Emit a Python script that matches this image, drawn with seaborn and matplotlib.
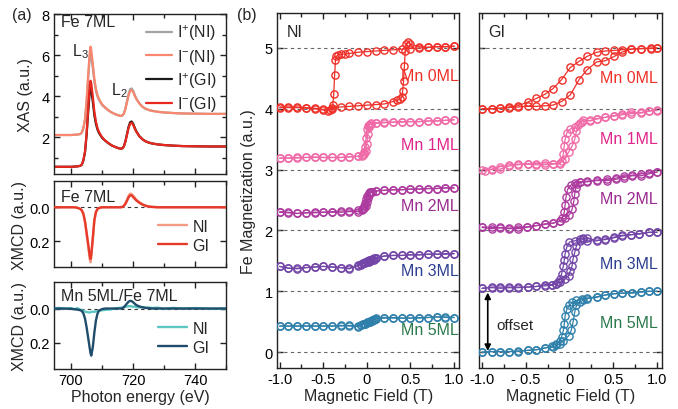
import matplotlib
matplotlib.use("Agg")
import matplotlib.pyplot as plt
from matplotlib.ticker import MultipleLocator, FixedLocator
import seaborn as sns

# ---------------------------------------------------------------- data
# Photon energy grid (eV) for the Fe L-edge spectra
energy = [694.5, 696, 698, 700, 701, 702, 703, 703.5, 704, 704.5,
          705, 705.5, 706, 706.25, 706.5, 707, 707.5, 708, 708.5, 709,
          710, 711, 712, 713, 714, 715, 716, 716.5, 717, 717.5,
          718, 718.5, 719, 719.5, 720, 720.5, 721, 722, 723, 724,
          725, 726, 728, 730, 733, 736, 740, 745, 750]

xas_plus_ni = [2.10, 2.10, 2.10, 2.10, 2.11, 2.12, 2.15, 2.22, 2.45, 2.85,
               3.70, 4.85, 5.85, 6.08, 5.95, 5.35, 4.70, 4.25, 3.98, 3.80,
               3.56, 3.42, 3.30, 3.20, 3.13, 3.07, 3.03, 3.05, 3.15, 3.40,
               3.75, 4.10, 4.33, 4.37, 4.25, 4.05, 3.88, 3.64, 3.48, 3.38,
               3.32, 3.28, 3.23, 3.20, 3.17, 3.15, 3.14, 3.13, 3.13]
xas_minus_ni = [2.10, 2.10, 2.10, 2.10, 2.11, 2.12, 2.15, 2.23, 2.47, 2.90,
                3.80, 5.02, 6.12, 6.41, 6.25, 5.58, 4.86, 4.36, 4.05, 3.85,
                3.59, 3.44, 3.31, 3.21, 3.13, 3.07, 3.03, 3.05, 3.14, 3.37,
                3.70, 4.03, 4.25, 4.30, 4.19, 4.01, 3.85, 3.63, 3.47, 3.38,
                3.32, 3.28, 3.23, 3.20, 3.17, 3.15, 3.14, 3.13, 3.13]
xas_plus_gi = [0.55, 0.55, 0.55, 0.55, 0.56, 0.57, 0.60, 0.66, 0.88, 1.27,
               2.10, 3.20, 4.20, 4.41, 4.30, 3.72, 3.06, 2.64, 2.37, 2.19,
               1.96, 1.82, 1.70, 1.60, 1.53, 1.47, 1.43, 1.45, 1.55, 1.80,
               2.15, 2.50, 2.72, 2.76, 2.64, 2.45, 2.28, 2.04, 1.89, 1.79,
               1.73, 1.69, 1.64, 1.61, 1.58, 1.56, 1.55, 1.54, 1.54]
xas_minus_gi = [0.55, 0.55, 0.55, 0.55, 0.56, 0.57, 0.60, 0.67, 0.90, 1.31,
                2.18, 3.38, 4.50, 4.75, 4.62, 3.97, 3.23, 2.75, 2.44, 2.24,
                1.99, 1.83, 1.71, 1.60, 1.53, 1.47, 1.43, 1.45, 1.54, 1.78,
                2.11, 2.44, 2.65, 2.70, 2.59, 2.41, 2.26, 2.03, 1.89, 1.79,
                1.73, 1.69, 1.64, 1.61, 1.58, 1.56, 1.55, 1.54, 1.54]

xmcd_fe_ni = [0.0, 0.0, 0.0, 0.0, 0.0, 0.003, 0.01, 0.02, 0.045, 0.09,
              0.16, 0.23, 0.305, 0.325, 0.295, 0.19, 0.08, 0.03, 0.012, 0.005,
              0.0, 0.0, 0.0, 0.0, 0.0, 0.0, 0.0, -0.003, -0.01, -0.025,
              -0.045, -0.068, -0.08, -0.078, -0.068, -0.057, -0.045, -0.03, -0.018, -0.01,
              -0.005, -0.002, 0.0, 0.0, 0.0, 0.0, 0.0, 0.0, 0.0]
xmcd_fe_gi = [0.0, 0.0, 0.0, 0.0, 0.0, 0.003, 0.01, 0.02, 0.04, 0.085,
              0.15, 0.215, 0.285, 0.305, 0.28, 0.18, 0.075, 0.028, 0.011, 0.004,
              0.0, 0.0, 0.0, 0.0, 0.0, 0.0, 0.0, -0.002, -0.008, -0.02,
              -0.038, -0.058, -0.07, -0.07, -0.06, -0.05, -0.04, -0.026, -0.015, -0.008,
              -0.004, -0.002, 0.0, 0.0, 0.0, 0.0, 0.0, 0.0, 0.0]
xmcd_mnfe_ni = [0.003, -0.004, 0.002, -0.003, 0.004, -0.002, 0.006, 0.01, 0.014, 0.018,
                0.02, 0.022, 0.024, 0.022, 0.02, 0.018, 0.02, 0.015, 0.017, 0.012,
                0.01, 0.008, 0.006, 0.004, 0.0, -0.003, -0.004, -0.006, -0.008, -0.01,
                -0.012, -0.013, -0.014, -0.012, -0.01, -0.012, -0.008, -0.006, -0.009, -0.004,
                -0.006, -0.003, -0.005, 0.002, -0.004, 0.001, -0.003, 0.002, 0.0]
xmcd_mnfe_gi = [0.0, 0.0, 0.0, 0.002, 0.004, 0.006, 0.01, 0.015, 0.03, 0.06,
                0.11, 0.17, 0.23, 0.26, 0.275, 0.225, 0.14, 0.07, 0.03, 0.012,
                0.003, 0.0, 0.0, 0.0, 0.0, 0.0, 0.0, -0.002, -0.008, -0.018,
                -0.03, -0.04, -0.045, -0.043, -0.036, -0.028, -0.02, -0.012, -0.007, -0.004,
                -0.002, 0.0, 0.0, 0.0, 0.0, 0.0, 0.0, 0.0, 0.0]

# Hysteresis loops: field (T) and offset Fe magnetization (a.u.),
# "up" = sweep from -1 T to +1 T, "down" = sweep back
layers = ["Mn 0ML", "Mn 1ML", "Mn 2ML", "Mn 3ML", "Mn 5ML"]

# normal incidence (NI)
ni_mn0_up_h = [-1.0, -0.9, -0.8, -0.7, -0.6, -0.5, -0.4, -0.3, -0.2, -0.1, 0.0, 0.1, 0.2, 0.3,
               0.35, 0.38, 0.4, 0.41, 0.42, 0.43, 0.44, 0.45, 0.47, 0.5, 0.6, 0.7, 0.8, 0.9, 1.0]
ni_mn0_up_m = [4.03, 4.03, 4.03, 4.02, 4.01, 3.99, 4.02, 4.03, 4.04, 4.05, 4.06, 4.07, 4.08, 4.12,
               4.14, 4.16, 4.19, 4.30, 4.45, 4.70, 4.95, 5.07, 5.09, 5.06, 5.02, 5.01, 5.02, 5.02, 5.03]
ni_mn0_dn_h = [1.0, 0.9, 0.8, 0.7, 0.6, 0.5, 0.4, 0.3, 0.2, 0.1, 0.0, -0.1, -0.2, -0.25, -0.3,
               -0.33, -0.35, -0.36, -0.37, -0.38, -0.39, -0.4, -0.42, -0.45, -0.5, -0.6, -0.7,
               -0.8, -0.9, -1.0]
ni_mn0_dn_m = [5.03, 5.02, 5.02, 5.01, 5.0, 4.99, 4.98, 4.97, 4.96, 4.95, 4.94, 4.93, 4.91, 4.90, 4.90,
               4.89, 4.86, 4.80, 4.55, 4.25, 4.07, 4.00, 3.98, 3.97, 3.98, 4.0, 4.01,
               4.02, 4.02, 4.02]

ni_mn1_up_h = [-1.0, -0.9, -0.8, -0.7, -0.6, -0.5, -0.4, -0.3, -0.2, -0.1, -0.06, -0.03, -0.01, 0.0,
               0.01, 0.02, 0.03, 0.05, 0.1, 0.2, 0.3, 0.4, 0.5, 0.6, 0.7, 0.8, 0.9, 1.0]
ni_mn1_up_m = [3.19, 3.19, 3.20, 3.20, 3.21, 3.20, 3.20, 3.20, 3.21, 3.22, 3.23, 3.25, 3.30, 3.42,
               3.58, 3.70, 3.74, 3.76, 3.77, 3.78, 3.78, 3.79, 3.79, 3.79, 3.80, 3.80, 3.81, 3.82]
ni_mn1_dn_h = [1.0, 0.9, 0.8, 0.7, 0.6, 0.5, 0.4, 0.3, 0.2, 0.1, 0.05, 0.03, 0.01, 0.0,
               -0.01, -0.02, -0.03, -0.05, -0.1, -0.2, -0.3, -0.4, -0.5, -0.6, -0.7, -0.8, -0.9, -1.0]
ni_mn1_dn_m = [3.82, 3.81, 3.80, 3.80, 3.79, 3.79, 3.78, 3.78, 3.77, 3.76, 3.75, 3.74, 3.72, 3.66,
               3.52, 3.38, 3.29, 3.24, 3.22, 3.21, 3.20, 3.20, 3.20, 3.20, 3.20, 3.19, 3.19, 3.19]

ni_mn2_up_h = [-1.0, -0.9, -0.8, -0.7, -0.6, -0.5, -0.4, -0.3, -0.2, -0.1, -0.06, -0.03, -0.01, 0.0,
               0.01, 0.02, 0.04, 0.06, 0.1, 0.2, 0.3, 0.4, 0.5, 0.6, 0.7, 0.8, 0.9, 1.0]
ni_mn2_up_m = [2.30, 2.29, 2.28, 2.29, 2.30, 2.30, 2.31, 2.32, 2.32, 2.34, 2.35, 2.37, 2.41, 2.47,
               2.54, 2.59, 2.63, 2.64, 2.65, 2.66, 2.67, 2.67, 2.68, 2.68, 2.69, 2.69, 2.70, 2.70]
ni_mn2_dn_h = [1.0, 0.9, 0.8, 0.7, 0.6, 0.5, 0.4, 0.3, 0.2, 0.1, 0.06, 0.04, 0.02, 0.0,
               -0.01, -0.02, -0.03, -0.04, -0.06, -0.1, -0.2, -0.3, -0.4, -0.5, -0.6, -0.7, -0.8,
               -0.9, -1.0]
ni_mn2_dn_m = [2.70, 2.70, 2.69, 2.69, 2.68, 2.68, 2.67, 2.67, 2.66, 2.65, 2.64, 2.63, 2.61, 2.57,
               2.51, 2.45, 2.40, 2.36, 2.33, 2.31, 2.31, 2.30, 2.30, 2.30, 2.29, 2.29, 2.28,
               2.30, 2.31]

ni_mn3_up_h = [-1.0, -0.9, -0.8, -0.7, -0.6, -0.5, -0.4, -0.3, -0.2, -0.1, -0.07, -0.04, -0.02, 0.0,
               0.02, 0.04, 0.06, 0.08, 0.1, 0.2, 0.3, 0.4, 0.5, 0.6, 0.7, 0.8, 0.9, 1.0]
ni_mn3_up_m = [1.41, 1.38, 1.37, 1.39, 1.40, 1.41, 1.40, 1.39, 1.37, 1.44, 1.45, 1.46, 1.47, 1.48,
               1.49, 1.50, 1.51, 1.52, 1.54, 1.58, 1.59, 1.59, 1.60, 1.60, 1.61, 1.61, 1.61, 1.62]
ni_mn3_dn_h = [1.0, 0.9, 0.8, 0.7, 0.6, 0.5, 0.4, 0.3, 0.2, 0.1, 0.08, 0.06, 0.04, 0.02,
               0.0, -0.02, -0.04, -0.07, -0.1, -0.2, -0.3, -0.4, -0.5, -0.6, -0.7, -0.8, -0.9, -1.0]
ni_mn3_dn_m = [1.62, 1.62, 1.61, 1.61, 1.60, 1.60, 1.59, 1.59, 1.58, 1.55, 1.54, 1.53, 1.52, 1.51,
               1.50, 1.48, 1.46, 1.44, 1.42, 1.38, 1.39, 1.40, 1.41, 1.40, 1.39, 1.38, 1.38, 1.41]

ni_mn5_up_h = [-1.0, -0.9, -0.8, -0.7, -0.6, -0.5, -0.4, -0.3, -0.2, -0.1, -0.07, -0.04, -0.02, 0.0,
               0.02, 0.04, 0.06, 0.08, 0.1, 0.2, 0.3, 0.4, 0.5, 0.6, 0.7, 0.8, 0.9, 1.0]
ni_mn5_up_m = [0.43, 0.43, 0.43, 0.43, 0.43, 0.43, 0.43, 0.43, 0.44, 0.43, 0.44, 0.46, 0.47, 0.48,
               0.49, 0.50, 0.51, 0.53, 0.56, 0.57, 0.57, 0.56, 0.56, 0.57, 0.57, 0.58, 0.58, 0.57]
ni_mn5_dn_h = [1.0, 0.9, 0.8, 0.7, 0.6, 0.5, 0.4, 0.3, 0.2, 0.1, 0.08, 0.06, 0.04, 0.02,
               0.0, -0.02, -0.04, -0.07, -0.1, -0.2, -0.3, -0.4, -0.5, -0.6, -0.7, -0.8, -0.9, -1.0]
ni_mn5_dn_m = [0.57, 0.57, 0.58, 0.57, 0.56, 0.56, 0.56, 0.56, 0.56, 0.55, 0.54, 0.53, 0.51, 0.50,
               0.49, 0.47, 0.46, 0.44, 0.42, 0.43, 0.44, 0.43, 0.43, 0.43, 0.43, 0.43, 0.43, 0.43]

# grazing incidence (GI)
gi_mn0_up_h = [-1.0, -0.89, -0.79, -0.69, -0.59, -0.48, -0.38, -0.28, -0.19, -0.09, 0.01,
               0.11, 0.2, 0.31, 0.41, 0.51, 0.6, 0.7, 0.82, 0.93, 1.0]
gi_mn0_up_m = [4.0, 4.0, 4.01, 4.02, 4.03, 4.04, 4.04, 4.05, 4.06, 4.12, 4.23,
               4.48, 4.64, 4.77, 4.79, 4.86, 4.93, 4.98, 4.99, 4.99, 5.0]
gi_mn0_dn_h = [1.0, 0.93, 0.82, 0.7, 0.6, 0.51, 0.41, 0.31, 0.2, 0.11, 0.01, -0.09, -0.19,
               -0.28, -0.38, -0.48, -0.59, -0.69, -0.79, -0.89, -1.0]
gi_mn0_dn_m = [5.0, 5.0, 4.99, 4.98, 4.97, 4.96, 4.95, 4.93, 4.86, 4.78, 4.68, 4.48, 4.33,
               4.24, 4.17, 4.11, 4.05, 4.03, 4.01, 4.0, 4.0]

gi_mn1_up_h = [-1.0, -0.89, -0.79, -0.69, -0.59, -0.48, -0.38, -0.28, -0.19, -0.11, -0.05, -0.01,
               0.03, 0.06, 0.08, 0.1, 0.14, 0.24, 0.31, 0.41, 0.51, 0.6, 0.7, 0.82, 0.91, 1.0]
gi_mn1_up_m = [3.0, 3.0, 3.01, 3.06, 3.08, 3.09, 3.08, 3.08, 3.09, 3.11, 3.18, 3.29,
               3.39, 3.5, 3.64, 3.73, 3.79, 3.81, 3.84, 3.86, 3.89, 3.92, 3.94, 3.94, 3.97, 3.97]
gi_mn1_dn_h = [1.0, 0.91, 0.82, 0.7, 0.6, 0.51, 0.41, 0.31, 0.24, 0.16, 0.12, 0.06, 0.01, -0.03,
               -0.05, -0.06, -0.07, -0.09, -0.11, -0.19, -0.28, -0.38, -0.48, -0.59, -0.69, -0.79,
               -0.89, -0.97]
gi_mn1_dn_m = [3.98, 3.96, 3.93, 3.92, 3.9, 3.88, 3.86, 3.83, 3.8, 3.82, 3.76, 3.70, 3.67, 3.61,
               3.5, 3.39, 3.26, 3.15, 3.09, 3.1, 3.11, 3.1, 3.1, 3.09, 3.08, 3.05,
               3.01, 2.97]

gi_mn2_up_h = [-1.0, -0.89, -0.79, -0.69, -0.59, -0.49, -0.38, -0.28, -0.19, -0.11, -0.05, 0.0,
               0.03, 0.05, 0.06, 0.07, 0.09, 0.12, 0.2, 0.31, 0.43, 0.53, 0.62, 0.72, 0.82, 0.91, 1.0]
gi_mn2_up_m = [2.05, 2.03, 2.05, 2.03, 2.03, 2.05, 2.08, 2.11, 2.12, 2.16, 2.2, 2.26,
               2.35, 2.48, 2.6, 2.7, 2.76, 2.79, 2.80, 2.82, 2.82, 2.84, 2.87, 2.90, 2.90, 2.93, 2.96]
gi_mn2_dn_h = [1.0, 0.91, 0.82, 0.72, 0.62, 0.53, 0.43, 0.31, 0.2, 0.12, 0.06, 0.02, -0.02,
               -0.04, -0.05, -0.06, -0.08, -0.11, -0.19, -0.28, -0.38, -0.49, -0.59, -0.69, -0.79,
               -0.89, -1.0]
gi_mn2_dn_m = [2.96, 2.95, 2.93, 2.91, 2.89, 2.86, 2.84, 2.83, 2.81, 2.80, 2.78, 2.75, 2.68,
               2.55, 2.42, 2.3, 2.2, 2.15, 2.12, 2.10, 2.08, 2.06, 2.05, 2.04, 2.04,
               2.05, 2.06]

gi_mn3_up_h = [-1.0, -0.89, -0.79, -0.69, -0.59, -0.48, -0.38, -0.28, -0.2, -0.16, -0.11, -0.05,
               -0.01, 0.01, 0.03, 0.04, 0.06, 0.08, 0.12, 0.16, 0.2, 0.31, 0.41, 0.51, 0.6, 0.7,
               0.8, 0.91, 1.0]
gi_mn3_up_m = [1.05, 1.07, 1.07, 1.07, 1.07, 1.07, 1.08, 1.11, 1.11, 1.12, 1.15, 1.2,
               1.26, 1.34, 1.42, 1.53, 1.64, 1.75, 1.83, 1.86, 1.83, 1.83, 1.86, 1.89, 1.92, 1.93,
               1.94, 1.97, 1.97]
gi_mn3_dn_h = [1.0, 0.91, 0.8, 0.7, 0.6, 0.51, 0.41, 0.31, 0.2, 0.16, 0.12, 0.06, 0.0, -0.03,
               -0.05, -0.06, -0.07, -0.09, -0.11, -0.13, -0.16, -0.2, -0.28, -0.38, -0.48, -0.59,
               -0.69, -0.79, -0.89, -1.0]
gi_mn3_dn_m = [1.97, 1.97, 1.95, 1.93, 1.91, 1.88, 1.85, 1.84, 1.87, 1.87, 1.86, 1.83, 1.81, 1.73,
               1.62, 1.51, 1.42, 1.29, 1.20, 1.15, 1.12, 1.10, 1.09, 1.08, 1.07, 1.06,
               1.06, 1.05, 1.06, 1.05]

gi_mn5_up_h = [-1.0, -0.89, -0.79, -0.69, -0.59, -0.48, -0.38, -0.28, -0.19, -0.15, -0.11, -0.07,
               -0.01, 0.02, 0.04, 0.06, 0.08, 0.12, 0.16, 0.2, 0.31, 0.41, 0.51, 0.6, 0.72, 0.82,
               0.91, 1.0]
gi_mn5_up_m = [0.0, 0.01, 0.01, 0.01, 0.01, 0.03, 0.04, 0.07, 0.08, 0.11, 0.14, 0.19,
               0.27, 0.36, 0.49, 0.66, 0.77, 0.82, 0.86, 0.88, 0.9, 0.94, 0.96, 0.97, 0.97, 0.99,
               1.0, 1.0]
gi_mn5_dn_h = [1.0, 0.91, 0.82, 0.72, 0.6, 0.51, 0.41, 0.31, 0.2, 0.14, 0.08, 0.03, 0.0, -0.03,
               -0.05, -0.06, -0.07, -0.09, -0.11, -0.15, -0.2, -0.28, -0.38, -0.48, -0.59, -0.69,
               -0.79, -0.89, -1.0]
gi_mn5_dn_m = [1.0, 1.0, 0.99, 0.98, 0.97, 0.96, 0.94, 0.91, 0.89, 0.88, 0.85, 0.82, 0.77, 0.71,
               0.60, 0.46, 0.36, 0.25, 0.19, 0.14, 0.1, 0.07, 0.04, 0.03, 0.02, 0.01,
               0.01, 0.01, 0.0]

ni_loops = [(ni_mn0_up_h, ni_mn0_up_m, ni_mn0_dn_h, ni_mn0_dn_m),
            (ni_mn1_up_h, ni_mn1_up_m, ni_mn1_dn_h, ni_mn1_dn_m),
            (ni_mn2_up_h, ni_mn2_up_m, ni_mn2_dn_h, ni_mn2_dn_m),
            (ni_mn3_up_h, ni_mn3_up_m, ni_mn3_dn_h, ni_mn3_dn_m),
            (ni_mn5_up_h, ni_mn5_up_m, ni_mn5_dn_h, ni_mn5_dn_m)]
gi_loops = [(gi_mn0_up_h, gi_mn0_up_m, gi_mn0_dn_h, gi_mn0_dn_m),
            (gi_mn1_up_h, gi_mn1_up_m, gi_mn1_dn_h, gi_mn1_dn_m),
            (gi_mn2_up_h, gi_mn2_up_m, gi_mn2_dn_h, gi_mn2_dn_m),
            (gi_mn3_up_h, gi_mn3_up_m, gi_mn3_dn_h, gi_mn3_dn_m),
            (gi_mn5_up_h, gi_mn5_up_m, gi_mn5_dn_h, gi_mn5_dn_m)]

ni_label_y = [4.55, 3.41, 2.41, 1.35, 0.38]
gi_label_y = [4.51, 3.51, 2.52, 1.46, 0.49]

# ---------------------------------------------------------------- style
sns.set_theme(style="ticks")
plt.rcParams["font.family"] = ["Liberation Sans", "DejaVu Sans"]
plt.rcParams["mathtext.fontset"] = "custom"
plt.rcParams["mathtext.rm"] = "Liberation Sans"
plt.rcParams["mathtext.it"] = "Liberation Sans"
plt.rcParams["axes.unicode_minus"] = False
plt.rcParams["axes.linewidth"] = 1.0
plt.rcParams["axes.edgecolor"] = "#222222"

loop_colors = ["#ef3029", "#f06aa7", "#ad3a9e", "#7245a7", "#2f80ab"]
label_colors = ["#ef3029", "#e0258a", "#9a2b8f", "#2d3f8f", "#2b7a4b"]

LABEL_FS = 11.5
TICK_FS = 10.5


def style_ticks(ax):
    ax.tick_params(which="both", direction="in", top=True, right=True,
                   width=1.0, colors="#222222", labelcolor="black",
                   labelsize=TICK_FS, pad=3)
    ax.tick_params(which="major", length=4)
    ax.tick_params(which="minor", length=3)


fig = plt.figure(figsize=(6.78, 4.10), dpi=100)

# ---------------------------------------------------------------- (a) XAS
ax_xas = fig.add_axes([0.0796, 0.5732, 0.2544, 0.3902])
sns.lineplot(x=energy, y=xas_plus_ni, ax=ax_xas, color="#a3a3a3", lw=1.6, label=r"I$^{+}$(NI)")
sns.lineplot(x=energy, y=xas_minus_ni, ax=ax_xas, color="#f7876f", lw=1.6, label=r"I$^{-}$(NI)")
sns.lineplot(x=energy, y=xas_plus_gi, ax=ax_xas, color="#1a1a1a", lw=1.6, label=r"I$^{+}$(GI)")
sns.lineplot(x=energy, y=xas_minus_gi, ax=ax_xas, color="#e8281f", lw=1.6, label=r"I$^{-}$(GI)")
ax_xas.set_xlim(694.5, 750)
ax_xas.set_ylim(0.2, 8.0)
ax_xas.yaxis.set_major_locator(FixedLocator([2, 4, 6, 8]))
ax_xas.yaxis.set_minor_locator(FixedLocator([1, 3, 5, 7]))
ax_xas.xaxis.set_major_locator(MultipleLocator(20))
ax_xas.xaxis.set_minor_locator(MultipleLocator(10))
style_ticks(ax_xas)
ax_xas.tick_params(labelbottom=False)
ax_xas.set_ylabel("XAS (a.u.)", fontsize=LABEL_FS, labelpad=6)
ax_xas.legend(loc="upper right", frameon=False, fontsize=11.5, handlelength=1.6,
              handletextpad=0.35, labelspacing=0.28, borderaxespad=0.15)
ax_xas.text(0.04, 0.955, "Fe 7ML", transform=ax_xas.transAxes, fontsize=11.5,
            ha="left", va="center")
ax_xas.text(700.4, 6.2, r"L$_3$", fontsize=11.5, ha="left", va="center")
ax_xas.text(712.9, 4.3, r"L$_2$", fontsize=11.5, ha="left", va="center")

# ---------------------------------------------------------------- (a) XMCD panels
xmcd_panels = [
    ([0.0796, 0.3463, 0.2544, 0.2098], "Fe 7ML", xmcd_fe_ni, xmcd_fe_gi, "#f59a84", "#e63a2a"),
    ([0.0796, 0.0976, 0.2544, 0.2122], "Mn 5ML/Fe 7ML", xmcd_mnfe_ni, xmcd_mnfe_gi, "#5cc6c3", "#1f4d6b"),
]
for i, (rect, title, ni_vals, gi_vals, c_ni, c_gi) in enumerate(xmcd_panels):
    ax = fig.add_axes(rect)
    ax.axhline(0, color="#333333", lw=0.8, ls=(0, (3, 3)), zorder=1)
    sns.lineplot(x=energy, y=ni_vals, ax=ax, color=c_ni, lw=1.7, label="NI", zorder=2)
    sns.lineplot(x=energy, y=gi_vals, ax=ax, color=c_gi, lw=1.7, label="GI", zorder=3)
    ax.set_xlim(694.5, 750)
    ax.set_ylim(0.353, -0.155)
    ax.yaxis.set_major_locator(FixedLocator([0.0, 0.2]))
    ax.yaxis.set_major_formatter(plt.FixedFormatter(["0.0", "0.2"]))
    ax.xaxis.set_major_locator(MultipleLocator(20))
    ax.xaxis.set_minor_locator(MultipleLocator(10))
    style_ticks(ax)
    ax.set_ylabel("XMCD (a.u.)", fontsize=LABEL_FS, labelpad=2)
    ax.legend(loc="lower right", frameon=False, fontsize=11.5, handlelength=1.8,
              handletextpad=0.35, labelspacing=0.25, borderaxespad=0.5,
              bbox_to_anchor=(0.985, 0.0))
    ax.text(0.04, 0.82 if i == 0 else 0.84, title, transform=ax.transAxes,
            fontsize=11.5, ha="left", va="center")
    if i == 0:
        ax.tick_params(labelbottom=False)
    else:
        ax.set_xticks([700, 720, 740])
        ax.set_xlabel("Photon energy (eV)", fontsize=LABEL_FS, labelpad=1)

# ---------------------------------------------------------------- (b) hysteresis loops
ax_ni = fig.add_axes([0.4086, 0.1, 0.2689, 0.8659])
ax_gi = fig.add_axes([0.7065, 0.1, 0.2695, 0.8659])

for ax, loops, label_y, x_right, tag, xlim in [
        (ax_ni, ni_loops, ni_label_y, 1.05, "NI", (-1.03, 1.06)),
        (ax_gi, gi_loops, gi_label_y, 1.01, "GI", (-1.035, 1.055))]:
    for level in range(6):
        ax.axhline(level, color="#666666", lw=0.8, ls=(0, (3, 3)), zorder=1)
    for (up_h, up_m, dn_h, dn_m), col in zip(loops, loop_colors):
        for h, m in [(dn_h, dn_m), (up_h, up_m)]:
            sns.lineplot(x=h, y=m, ax=ax, sort=False, estimator=None, color=col,
                         lw=0.9, marker="o", markersize=5.2, markerfacecolor="none",
                         markeredgecolor=col, markeredgewidth=1.0, zorder=3)
    for name, y, tc in zip(layers, label_y, label_colors):
        ax.text(x_right, y, name, color=tc, fontsize=11.5, ha="right", va="center", zorder=4)
    ax.set_xlim(*xlim)
    ax.set_ylim(-0.26, 5.575)
    ax.set_xticks([-1.0, -0.5, 0.0, 0.5, 1.0])
    ax.xaxis.set_minor_locator(FixedLocator([-0.75, -0.25, 0.25, 0.75]))
    ax.set_yticks(range(6))
    style_ticks(ax)
    ax.set_xlabel("Magnetic Field (T)", fontsize=LABEL_FS, labelpad=1)
    ax.text(0.053, 0.948, tag, transform=ax.transAxes, fontsize=11.5, ha="left", va="center")

ax_ni.set_xticklabels(["-1.0", "-0.5", "0", "0.5", "1.0"])
ax_gi.set_xticklabels(["-1.0", "- 0.5", "0", "0.5", "1.0"])
ax_ni.set_ylabel("Fe Magnetization (a.u.)", fontsize=LABEL_FS, labelpad=6)
ax_gi.tick_params(labelleft=False)
ax_gi.set_ylabel("")

ax_gi.annotate("", xy=(-0.935, 0.02), xytext=(-0.935, 0.98),
               arrowprops=dict(arrowstyle="<|-|>", color="black", lw=1.2,
                               mutation_scale=9, shrinkA=0, shrinkB=0))
ax_gi.text(-0.84, 0.45, "offset", fontsize=11, ha="left", va="center")

fig.text(0.017, 0.963, "(a)", fontsize=11.5, ha="left", va="center")
fig.text(0.350, 0.963, "(b)", fontsize=11.5, ha="left", va="center")

fig.savefig("out.png", dpi=100)
